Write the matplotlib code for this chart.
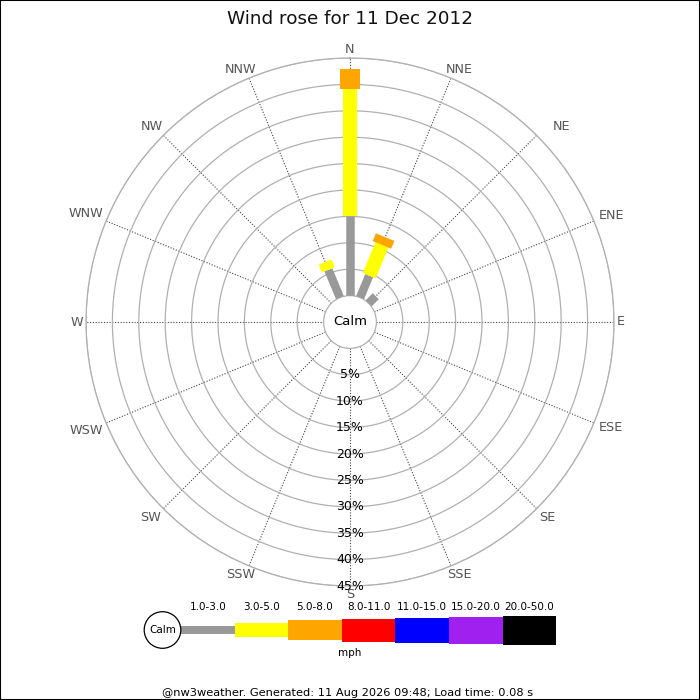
import numpy as np
import matplotlib
matplotlib.use("Agg")
import matplotlib.pyplot as plt
from matplotlib.patches import Rectangle, Circle

# Wind rose data (percent of the day)
directions = ['N', 'NNE', 'NE', 'ENE', 'E', 'ESE', 'SE', 'SSE',
              'S', 'SSW', 'SW', 'WSW', 'W', 'WNW', 'NW', 'NNW']
speed_bins = ['1.0-3.0', '3.0-5.0', '5.0-8.0', '8.0-11.0',
              '11.0-15.0', '15.0-20.0', '20.0-50.0']
bin_colors = ['#999999', '#ffff00', '#ffa500', '#ff0000',
              '#0000ff', '#a020f0', '#000000']

# frequency per direction for each speed bin (only the three lowest bins are used)
freq_1_3 = [15.0, 4.5, 1.9, 0, 0, 0, 0, 0, 0, 0, 0, 0, 0, 0, 0, 5.7]
freq_3_5 = [24.1, 6.3, 0, 0, 0, 0, 0, 0, 0, 0, 0, 0, 0, 0, 0, 1.6]
freq_5_8 = [3.8, 1.6, 0, 0, 0, 0, 0, 0, 0, 0, 0, 0, 0, 0, 0, 0]
zeros = [0] * 16
freqs = [freq_1_3, freq_3_5, freq_5_8, zeros, zeros, zeros, zeros]

rings = [5, 10, 15, 20, 25, 30, 35, 40, 45]

title = 'Wind rose for 11 Dec 2012'
footer = '@nw3weather. Generated: 11 Aug 2026 09:48; Load time: 0.08 s'

# bar thickness in pixels for each speed bin
bar_px = [8.5, 14, 20, 23, 25, 27, 29]

W, H = 700, 700
fig = plt.figure(figsize=(7, 7), dpi=100)
px2pt = 72 / fig.dpi

# polar axes: outer ring radius 264 px, centre at (350, 322)
R_out = 264
cx, cy = 350, 322
ax = fig.add_axes([(cx - R_out) / W, (H - cy - R_out) / H, 2 * R_out / W, 2 * R_out / H],
                  projection='polar')
ax.set_theta_zero_location('N')
ax.set_theta_direction(-1)
ax.set_rorigin(-5)
ax.set_ylim(0, 45)
ax.set_facecolor('none')

theta = np.deg2rad(np.arange(16) * 22.5)
ax.set_thetagrids(np.arange(16) * 22.5, [''] * 16)
ax.set_rgrids(rings, [''] * len(rings))
ax.grid(False)
for t in theta:
    ax.plot([t, t], [0, 45], color='#444444', lw=0.8, ls=(0, (1, 1.5)), zorder=1)
tt = np.linspace(0, 2 * np.pi, 400)
for r in rings:
    ax.plot(tt, np.full_like(tt, r), color='#b0b0b0', lw=0.9, zorder=1)
for name, sp in ax.spines.items():
    sp.set_color('#b0b0b0')
    sp.set_linewidth(0.9)
ax.tick_params(length=0)

# stacked bars drawn as thick radial segments
base = np.zeros(16)
for k, f in enumerate(freqs):
    f = np.array(f, dtype=float)
    for i in range(16):
        if f[i] > 0:
            ax.plot([theta[i], theta[i]], [base[i], base[i] + f[i]], color=bin_colors[k],
                    lw=bar_px[k] * px2pt, solid_capstyle='butt', zorder=3 + k)
    base += f

# direction labels, placed just outside the end of each spoke
nudge = {'NE': (14, 0), 'NW': (2, 0), 'ENE': (2, -2), 'ESE': (2, 3)}
for t, d in zip(theta, directions):
    sx, sy = np.sin(t), np.cos(t)
    if abs(sx) < 0.5:
        # near-vertical spokes: centred label, shifted diagonally outwards
        ox = 0 if abs(sx) < 0.01 else 8.5 * np.sign(sx)
        oy = 8.5 * np.sign(sy)
        ha, va = 'center', 'center'
    else:
        ox, oy = 3 * sx, 3 * sy
        ha = 'left' if sx > 0 else 'right'
        va = 'center' if abs(sy) < 0.01 else ('bottom' if sy > 0 else 'top')
    nx, ny = nudge.get(d, (0, 0))
    ax.annotate(d, xy=(t, 45), xytext=((ox + nx) * px2pt, (oy + ny) * px2pt),
                textcoords='offset points', ha=ha, va=va, fontsize=9.2, color='#555555',
                annotation_clip=False, zorder=10)

# percent labels down the south line
for r in rings:
    ax.text(np.pi, r, f'{r}%', ha='center', va='center', fontsize=9, color='black',
            zorder=11)

ax.text(0.5, 0.5, 'Calm', transform=ax.transAxes, ha='center', va='center',
        fontsize=9.5, color='black', zorder=12)

# overlay in pixel coordinates for title, legend and footer
lax = fig.add_axes([0, 0, 1, 1])
lax.set_xlim(0, W)
lax.set_ylim(H, 0)
lax.axis('off')
lax.set_facecolor('none')

lax.text(350, 18.5, title, ha='center', va='center', fontsize=13.2, color='#111111')

leg_x0, leg_y, seg_w = 181, 630, 53.6
lefts = leg_x0 + seg_w * np.arange(len(speed_bins))
heights = np.array(bar_px)
lax.bar(lefts, heights, width=seg_w, bottom=leg_y - heights / 2, align='edge',
        color=bin_colors, edgecolor='none')
for x, lab in zip(lefts, speed_bins):
    lax.text(x + seg_w / 2, 606.5, lab, ha='center', va='center', fontsize=7.5)
lax.add_patch(Circle((162.5, leg_y), 18.3, facecolor='white', edgecolor='black', lw=0.9))
lax.text(162.5, leg_y, 'Calm', ha='center', va='center', fontsize=7.5)
lax.text(350, 653, 'mph', ha='center', va='center', fontsize=7.5)

lax.text(348, 692.5, footer, ha='center', va='center', fontsize=8.2)

fig.patches.append(Rectangle((0, 0), 1, 1, transform=fig.transFigure, fill=False,
                             edgecolor='black', lw=1.5))

fig.savefig('out.png', dpi=100)
